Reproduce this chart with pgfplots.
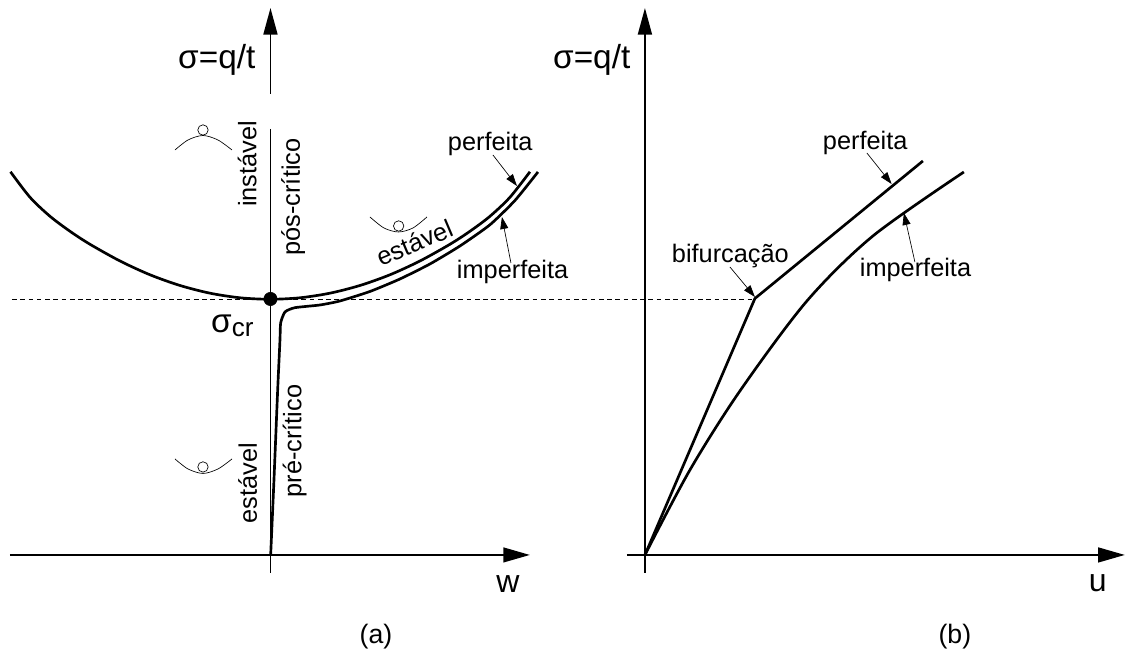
\documentclass[border=0pt]{standalone}
\usepackage{fontspec}
\setmainfont{Liberation Sans}
\usepackage{pgfplots}
\pgfplotsset{compat=1.18}
\usetikzlibrary{arrows.meta}
\newcommand{\lb}[3]{\node[anchor=base west,inner sep=0pt,outer sep=0pt,font=\fontsize{19pt}{22pt}\selectfont] at (axis cs:#1,#2) {#3};}
\newcommand{\rlb}[4]{\node[anchor=base,rotate=#3,inner sep=0pt,outer sep=0pt,font=\fontsize{19pt}{22pt}\selectfont] at (axis cs:#1,#2) {#4};}
\begin{document}
\begin{tikzpicture}
\begin{axis}[
  hide axis, scale only axis, width=844.5pt, height=490.5pt,
  xmin=0, xmax=1126, ymin=0, ymax=654, y dir=reverse, clip=false,
  every axis plot/.append style={black}
]
\path (axis cs:0,0) (axis cs:1126,654);
% --- axes, panel a
\addplot[line width=1.4pt,-{Triangle[length=20pt,width=10.5pt]}] coordinates {(270.5,94) (270.5,8)};
\addplot[line width=1.4pt] coordinates {(270.5,129) (270.5,573)};
\addplot[line width=1.7pt,-{Triangle[length=20pt,width=11pt]}] coordinates {(10,555) (530,555)};
% --- axes, panel b
\addplot[line width=1.4pt,-{Triangle[length=20pt,width=10.5pt]}] coordinates {(645,573) (645,8)};
\addplot[line width=1.7pt,-{Triangle[length=20pt,width=11pt]}] coordinates {(627,555) (1125,555)};
% --- dashed
\addplot[line width=0.5pt,dash pattern=on 3.5pt off 2.7pt] coordinates {(12,299) (755,299)};
% --- panel a curves
\addplot[line width=2pt,smooth] coordinates {(10.5,171.8) (30,197.3) (50,216.3) (70,231.3) (90,244.3) (120,261) (150,274.8) (180,285.5) (210,293.2) (240,297.8) (270,299.3) (300,297.8) (330,293.2) (360,285.5) (390,274.8) (420,261) (450,244.3) (470,231.3) (490,216.3) (510,197.3) (530,171.8)};
\addplot[line width=2pt,smooth,tension=0.35] coordinates {(270.7,555) (274,480) (277.7,390) (280,340) (280.7,323) (285,312) (295,307.7) (320,305) (340,301) (370,291.5) (400,279) (430,264) (460,246) (490,224.8) (515,200.5) (538,172)};
\addplot[only marks,mark=*,mark size=5pt,mark options={fill=black,draw=black}] coordinates {(270.5,299)};
% --- ball symbols
\addplot[line width=0.5pt,smooth] coordinates {(175,150) (188,140) (203,135.5) (218,140) (232,150)};
\addplot[line width=0.5pt,smooth] coordinates {(370,217) (384,228) (398.5,232) (413,228) (427,217)};
\addplot[line width=0.5pt,smooth] coordinates {(175,459) (188,469) (203,473.5) (218,469) (232,459)};
\addplot[only marks,mark=o,mark size=3.9pt,mark options={line width=0.5pt,draw=black,fill=white}] coordinates {(203,130) (398.7,226) (203,467)};
% --- panel b curves
\addplot[line width=2pt] coordinates {(645,555) (755,298.5) (923,161)};
\addplot[line width=2pt,smooth] coordinates {(645,555) (690,470) (740,391) (807,301) (873,236) (964,172)};
% --- callout arrows
\addplot[line width=0.5pt,-{Triangle[length=9pt,width=6pt]}] coordinates {(493,155) (517,186)};
\addplot[line width=0.5pt,-{Triangle[length=9pt,width=6pt]}] coordinates {(511,263) (502,217)};
\addplot[line width=0.5pt,-{Triangle[length=9pt,width=6pt]}] coordinates {(867,153) (891.7,184)};
\addplot[line width=0.5pt,-{Triangle[length=9pt,width=6pt]}] coordinates {(730,267) (755,297)};
\addplot[line width=0.5pt,-{Triangle[length=9pt,width=6pt]}] coordinates {(915,262) (904,213)};
% --- text
\lb{448}{151}{perfeita}
\lb{457}{279}{imperfeita}
\lb{823}{150}{perfeita}
\lb{860}{277}{imperfeita}
\lb{672}{263}{bifurcação}
\rlb{256.5}{164}{90}{instável}
\rlb{300}{197}{90}{pós-crítico}
\rlb{257}{483}{90}{estável}
\rlb{301.5}{441}{90}{pré-crítico}
\rlb{418}{251}{23}{estável}
\node[anchor=base west,inner sep=0pt,font=\fontsize{25pt}{29pt}\selectfont] at (axis cs:178,69) {σ=q/t};
\node[anchor=base west,inner sep=0pt,font=\fontsize{25pt}{29pt}\selectfont] at (axis cs:553,69) {σ=q/t};
\node[anchor=base west,inner sep=0pt,font=\fontsize{25pt}{29pt}\selectfont] at (axis cs:211,333) {σ\raisebox{-3pt}{\fontsize{19.5pt}{22pt}\selectfont cr}};
\node[anchor=base,inner sep=0pt,font=\fontsize{24pt}{28pt}\selectfont] at (axis cs:508,593) {w};
\node[anchor=base,inner sep=0pt,font=\fontsize{24pt}{28pt}\selectfont] at (axis cs:1098,592) {u};
\node[anchor=base,inner sep=0pt,font=\fontsize{20pt}{24pt}\selectfont] at (axis cs:376,644) {(a)};
\node[anchor=base,inner sep=0pt,font=\fontsize{20pt}{24pt}\selectfont] at (axis cs:955,644) {(b)};
\end{axis}
\end{tikzpicture}
\end{document}
